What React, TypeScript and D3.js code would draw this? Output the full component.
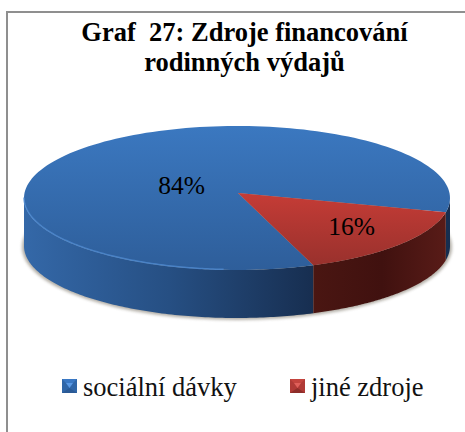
import React from "react";
import * as d3 from "d3";

const categories = ["sociální dávky", "jiné zdroje"];
const shares = [84, 16];
const labels = ["84%", "16%"];
const titleLines = ["Graf  27: Zdroje financování", "rodinných výdajů"];

const W = 465, H = 432;
const cx = 237, cy = 198, rx = 213, ry = 72, depth = 48;
const apexY = 193;
const start = (159 * Math.PI) / 180;
const serif = "'Liberation Serif', 'Times New Roman', Times, serif";

const pieGen = d3.pie<number>().sort(null).startAngle(start).endAngle(start + 2 * Math.PI);
const arcs = pieGen(shares);
const px = d3.scaleLinear().domain([-1, 1]).range([cx - rx, cx + rx]);
const py = d3.scaleLinear().domain([-1, 1]).range([cy - ry, cy + ry]);

function topPath(a: any) {
  const pts = d3.range(0, 161).map((i) => {
    const t = a.startAngle + ((a.endAngle - a.startAngle) * i) / 160;
    return [px(Math.sin(t)), py(-Math.cos(t))] as [number, number];
  });
  return `M${px(0) + 1},${apexY}L` + pts.map((p) => p.join(",")).join("L") + "Z";
}
function sidePath(a: any) {
  const windows = [
    [Math.PI / 2, (3 * Math.PI) / 2],
    [Math.PI / 2 + 2 * Math.PI, (3 * Math.PI) / 2 + 2 * Math.PI],
  ];
  return windows
    .map(([w0, w1]) => {
      const l = Math.max(a.startAngle, w0);
      const h = Math.min(a.endAngle, w1);
      if (h <= l) return "";
      const ts = d3.range(0, 121).map((i) => l + ((h - l) * i) / 120);
      const up = ts.map((t) => `${px(Math.sin(t))},${py(-Math.cos(t))}`);
      const dn = ts.slice().reverse().map((t) => `${px(Math.sin(t))},${py(-Math.cos(t)) + depth}`);
      return "M" + up.join("L") + "L" + dn.join("L") + "Z";
    })
    .join("");
}
function rimPath(t0: number, t1: number, off: number) {
  const ts = d3.range(0, 121).map((i) => t0 + ((t1 - t0) * i) / 120);
  return "M" + ts.map((t) => `${px(Math.sin(t))},${py(-Math.cos(t)) + off}`).join("L");
}

const topFill = ["url(#topBlue)", "url(#topRed)"];
const sideFill = ["url(#sideBlue)", "url(#sideRed)"];
const labelPos = [
  [181.5, 194],
  [351.5, 235],
];

function Swatch({ x, y, c }: { x: number; y: number; c: string[] }) {
  const s = 15, h = 14, m = 4;
  return (
    <g>
      <rect x={x} y={y} width={s} height={h} fill={c[1]} />
      <polygon points={`${x},${y} ${x + s},${y} ${x + s - m},${y + m} ${x + m},${y + m}`} fill={c[3]} />
      <polygon points={`${x + m},${y + m} ${x + s - m},${y + m} ${x + s / 2},${y + h / 2 + 2}`} fill={c[0]} />
      <polygon points={`${x},${y + h} ${x + s},${y + h} ${x + s / 2},${y + h / 2 + 2}`} fill={c[2]} />
    </g>
  );
}

export default function App() {
  return (
    <svg
      width={W}
      height={H}
      viewBox={`0 0 ${W} ${H}`}
      style={{ position: "fixed", left: 0, top: 0, display: "block", background: "#fff", fontFamily: serif }}
    >
      <defs>
        <linearGradient id="topBlue" gradientUnits="userSpaceOnUse" x1="0" y1={cy - ry} x2="0" y2={cy + ry}>
          <stop offset="0" stopColor="#3b78c0" />
          <stop offset="1" stopColor="#2e5e9a" />
        </linearGradient>
        <linearGradient id="topRed" gradientUnits="userSpaceOnUse" x1="0" y1={apexY} x2="0" y2={cy + ry}>
          <stop offset="0" stopColor="#c53c36" />
          <stop offset="1" stopColor="#96302c" />
        </linearGradient>
        <linearGradient id="sideBlue" gradientUnits="userSpaceOnUse" x1={cx - rx} y1="0" x2="314" y2="0">
          <stop offset="0" stopColor="#3468a8" />
          <stop offset="0.5" stopColor="#264f83" />
          <stop offset="1" stopColor="#172e50" />
        </linearGradient>
        <linearGradient id="sideRed" gradientUnits="userSpaceOnUse" x1="314" y1="0" x2={cx + rx} y2="0">
          <stop offset="0" stopColor="#4a1612" />
          <stop offset="0.5" stopColor="#40110f" />
          <stop offset="1" stopColor="#5a1c18" />
        </linearGradient>
        <filter id="soft" x="-5%" y="-5%" width="110%" height="115%">
          <feGaussianBlur stdDeviation="1.4" />
        </filter>
      </defs>

      <path d={`M7,${H}V12H${W}`} fill="none" stroke="#8f8f8f" strokeWidth={2} />

      {titleLines.map((t, i) => (
        <text
          key={i}
          x={244.5}
          y={41 + i * 30}
          textAnchor="middle"
          fontSize={26.5}
          fontWeight="bold"
          fill="#000"
          style={{ whiteSpace: "pre", fontFamily: serif }}
        >
          {t}
        </text>
      ))}

      <ellipse cx={cx} cy={cy + depth + 1} rx={rx + 2} ry={ry + 1} fill="#8a8478" opacity={0.65} filter="url(#soft)" />

      {arcs.map((a, i) => (
        <path key={"s" + i} d={sidePath(a)} fill={sideFill[i]} />
      ))}
      {arcs.map((a, i) => (
        <path key={"t" + i} d={topPath(a)} fill={topFill[i]} />
      ))}
      <path d={rimPath(Math.PI * 1.02, Math.PI * 1.5, -0.5)} fill="none" stroke="#4f8ad0" strokeWidth={1.5} opacity={0.8} />

      {labels.map((l, i) => (
        <text key={l} x={labelPos[i][0]} y={labelPos[i][1]} textAnchor="middle" fontSize={25.5} fill="#000" style={{ fontFamily: serif }}>
          {l}
        </text>
      ))}

      <Swatch x={62} y={379} c={["#5a9ae6", "#2f66a8", "#2a5a96", "#3a78c4"]} />
      <text x={83} y={396} fontSize={26.5} fill="#111" style={{ fontFamily: serif }}>{categories[0]}</text>
      <Swatch x={290} y={379} c={["#e0605a", "#b03a36", "#8e2e2a", "#c4443e"]} />
      <text x={311} y={396} fontSize={26.5} fill="#111" style={{ fontFamily: serif }}>{categories[1]}</text>
    </svg>
  );
}
